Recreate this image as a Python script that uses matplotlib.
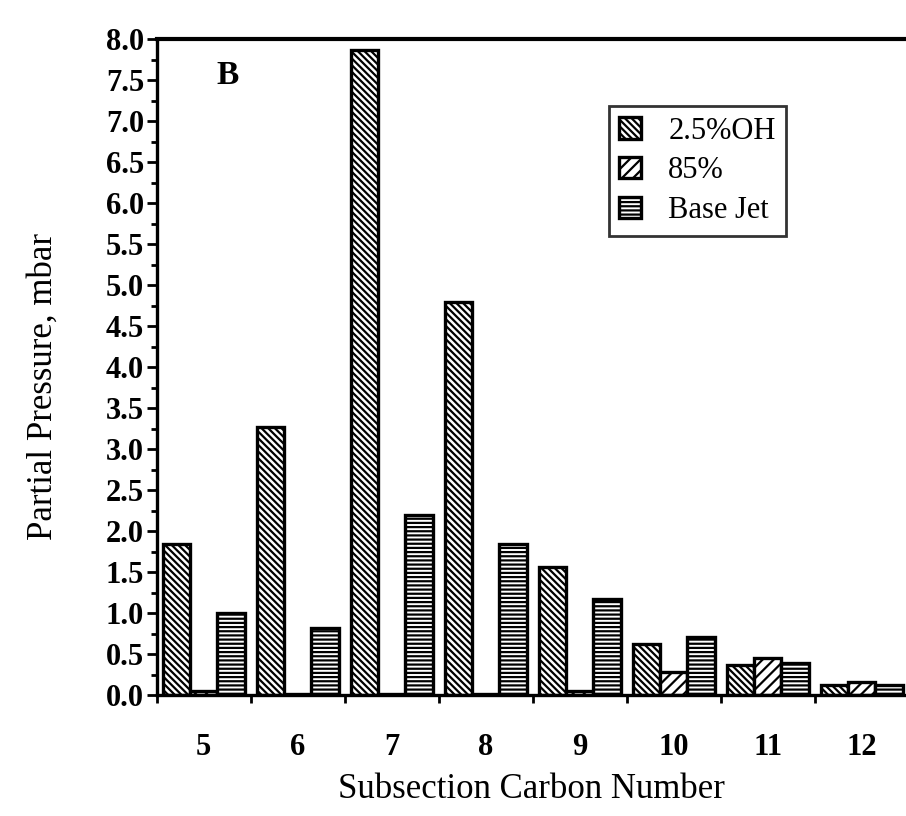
import matplotlib
matplotlib.use('Agg')
import matplotlib.pyplot as plt
import numpy as np

# subsection carbon numbers and partial pressures (mbar)
carbon = [5, 6, 7, 8, 9, 10, 11, 12]
oh_25 = [1.85, 3.27, 7.87, 4.79, 1.56, 0.62, 0.37, 0.13]
p_85 = [0.05, 0.02, 0.02, 0.02, 0.05, 0.28, 0.45, 0.16]
base_jet = [1.0, 0.82, 2.2, 1.84, 1.17, 0.71, 0.39, 0.13]
series_names = ['2.5%OH', '85%', 'Base Jet']
y_ticks = np.arange(0, 8.01, 0.5)

plt.rcParams['font.family'] = ['Liberation Serif', 'DejaVu Serif']
plt.rcParams['hatch.linewidth'] = 1.6
plt.rcParams['hatch.color'] = 'black'

fig = plt.figure(figsize=(9.06, 8.16), dpi=100)
ax = fig.add_axes([0.173, 0.148, 0.827, 0.804])

x = np.array(carbon)
w = 0.29
ax.bar(x - w, oh_25, w, facecolor='white', edgecolor='black', linewidth=2.4,
       hatch='\\\\\\\\\\', label=series_names[0])
ax.bar(x, p_85, w, facecolor='white', edgecolor='black', linewidth=2.4,
       hatch='///', label=series_names[1])
ax.bar(x + w, base_jet, w, facecolor='white', edgecolor='black', linewidth=2.4,
       hatch='----', label=series_names[2])

ax.set_xlim(4.5, 12.47)
ax.set_ylim(0, 8.0)

ax.set_yticks(y_ticks)
ax.set_yticklabels(['%.1f' % v for v in y_ticks], fontweight='bold', fontsize=22)
ax.set_yticks(np.arange(0.25, 8.0, 0.5), minor=True)
ax.set_xticks(carbon)
ax.set_xticklabels([str(c) for c in carbon], fontweight='bold', fontsize=22)
ax.set_xticks(np.arange(4.5, 12.0, 1.0), minor=True)

ax.tick_params(axis='y', which='major', direction='out', length=7, width=2, pad=2)
ax.tick_params(axis='y', which='minor', direction='out', length=4, width=2)
ax.tick_params(axis='x', which='major', length=0, pad=27)
ax.tick_params(axis='x', which='minor', direction='out', length=6, width=2)

ax.spines['right'].set_visible(False)
ax.spines['top'].set_linewidth(3)
ax.spines['left'].set_linewidth(2.4)
ax.spines['bottom'].set_linewidth(2.4)

ax.set_xlabel('Subsection Carbon Number', fontsize=25, labelpad=8)
ax.set_ylabel('Partial Pressure, mbar', fontsize=25)
ax.yaxis.set_label_coords(-0.13, 0.47)

ax.text(5.25, 7.56, 'B', fontsize=24, fontweight='bold', ha='center', va='center')

leg = ax.legend(loc='upper left', bbox_to_anchor=(0.603, 0.898), fontsize=22,
                frameon=True, fancybox=False, edgecolor='black',
                handlelength=0.7, handleheight=0.7, handletextpad=0.9,
                labelspacing=0.35, borderpad=0.35, borderaxespad=0)
leg.get_frame().set_linewidth(2)

fig.savefig('out.png', dpi=100)
